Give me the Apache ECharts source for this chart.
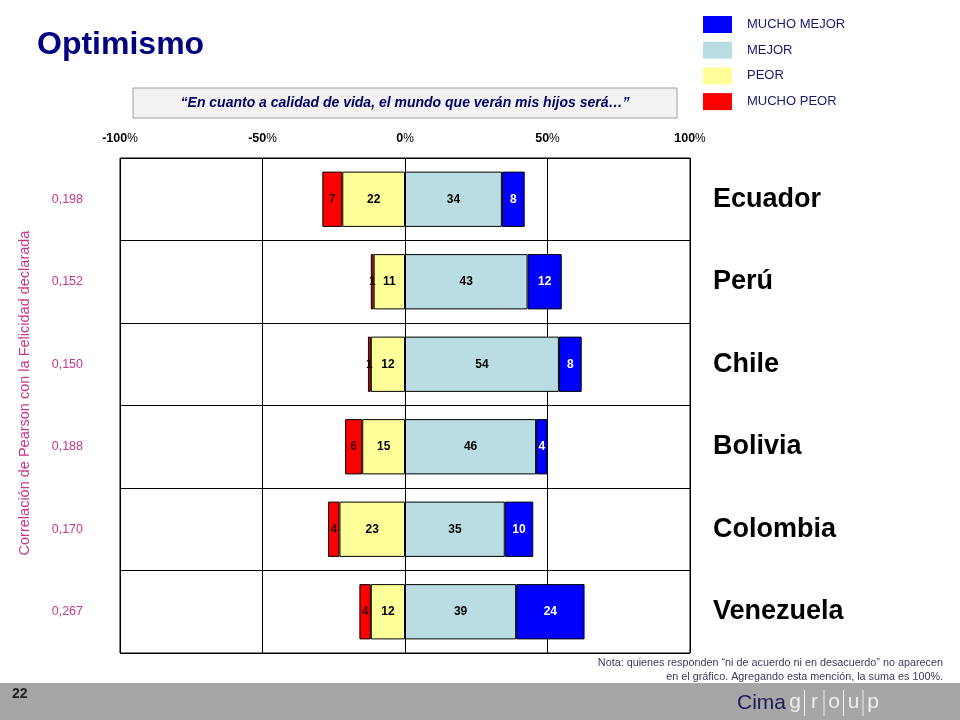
<!DOCTYPE html>
<html>
<head>
<meta charset="utf-8">
<script src="https://cdn.jsdelivr.net/npm/echarts@6/dist/echarts.min.js"></script>
<style>html,body{margin:0;padding:0;background:#fff}#c{width:960px;height:720px}</style>
</head>
<body>
<div id="c"></div>
<script>
const countries = ['Ecuador', 'Perú', 'Chile', 'Bolivia', 'Colombia', 'Venezuela'];
const correlations = ['0,198', '0,152', '0,150', '0,188', '0,170', '0,267'];
const muchoMejor = [8, 12, 8, 4, 10, 24];
const mejor = [34, 43, 54, 46, 35, 39];
const peor = [22, 11, 12, 15, 23, 12];
const muchoPeor = [7, 1, 1, 6, 4, 4];
const seriesNames = ['MUCHO MEJOR', 'MEJOR', 'PEOR', 'MUCHO PEOR'];
const axisMin = -100, axisMax = 100, axisStep = 50;

const FONT = 'Liberation Sans, Arial, sans-serif';
const chart = echarts.init(document.getElementById('c'));

function barSeries(name, values, color, labelColor, negative) {
  return {
    name: name,
    type: 'bar',
    stack: 'total',
    barCategoryGap: '33%',
    data: values.map(v => negative ? -v : v),
    itemStyle: { color: color, borderColor: '#000', borderWidth: 1 },
    label: {
      show: true,
      position: 'inside',
      formatter: p => String(Math.abs(p.value)),
      color: labelColor,
      fontFamily: FONT,
      fontWeight: 'bold',
      fontSize: 12
    },
    emphasis: { disabled: true }
  };
}

const option = {
  animation: false,
  backgroundColor: '#fff',
  title: {
    text: 'Optimismo',
    left: 32, top: 24,
    textStyle: { color: '#000080', fontSize: 32, fontWeight: 'bold', fontFamily: FONT }
  },
  legend: {
    data: seriesNames,
    orient: 'vertical',
    left: 698, top: 11,
    icon: 'rect',
    itemWidth: 29, itemHeight: 17, itemGap: 8.7,
    selectedMode: false,
    itemStyle: { borderWidth: 0 },
    textStyle: { color: '#1a1a6e', fontSize: 13, lineHeight: 13, fontFamily: FONT, padding: [4, 0, 0, 10] }
  },
  grid: {
    left: 120, right: 270, top: 158, bottom: 67,
    show: true, borderColor: '#000', borderWidth: 1, backgroundColor: 'transparent'
  },
  xAxis: {
    type: 'value',
    position: 'top',
    min: axisMin, max: axisMax, interval: axisStep,
    axisLine: { show: false },
    axisTick: { show: false },
    splitLine: { show: true, lineStyle: { color: '#000', width: 1 } },
    axisLabel: {
      margin: 13,
      formatter: v => '{n|' + v + '}{p|%}',
      rich: {
        n: { fontFamily: FONT, fontWeight: 'bold', fontSize: 12.5, color: '#000' },
        p: { fontFamily: FONT, fontSize: 12, color: '#000' }
      }
    }
  },
  yAxis: [
    {
      type: 'category',
      data: countries,
      inverse: true,
      position: 'right',
      axisLine: { show: false },
      axisTick: { show: false },
      splitLine: { show: true, lineStyle: { color: '#000', width: 1 } },
      axisLabel: {
        margin: 23,
        align: 'left',
        color: '#000',
        fontFamily: FONT,
        fontWeight: 'bold',
        fontSize: 27,
        padding: [3, 0, 0, 0]
      }
    },
    {
      type: 'category',
      data: correlations,
      inverse: true,
      position: 'left',
      axisLine: { show: false },
      axisTick: { show: false },
      splitLine: { show: false },
      axisLabel: {
        margin: 37,
        color: '#c8368c',
        fontFamily: FONT,
        fontSize: 12.5,
        padding: [5, 0, 0, 0]
      }
    }
  ],
  series: [
    barSeries('PEOR', peor, '#ffff99', '#000000', true),
    barSeries('MUCHO PEOR', muchoPeor, '#ff0000', '#3a0000', true),
    barSeries('MEJOR', mejor, '#b9dde2', '#000000', false),
    barSeries('MUCHO MEJOR', muchoMejor, '#0000ff', '#ffffff', false)
  ],
  graphic: [
    {
      type: 'rect',
      shape: { x: 133, y: 88, width: 544, height: 30 },
      style: { fill: '#f2f2f2', stroke: '#a0a0a0', lineWidth: 1 },
      silent: true
    },
    {
      type: 'text',
      x: 405, y: 103,
      style: {
        text: '“En cuanto a calidad de vida, el mundo que verán mis hijos será…”',
        font: 'italic bold 14px ' + FONT,
        fill: '#000066',
        align: 'center', verticalAlign: 'middle'
      },
      silent: true
    },
    {
      type: 'text',
      x: 25, y: 393,
      rotation: Math.PI / 2,
      style: {
        text: 'Correlación de Pearson con la Felicidad declarada',
        font: '14.5px ' + FONT,
        fill: '#c8368c',
        align: 'center', verticalAlign: 'middle'
      },
      silent: true
    },
    {
      type: 'text',
      x: 943, y: 670,
      style: {
        text: 'Nota: quienes responden “ni de acuerdo ni en desacuerdo” no aparecen\nen el gráfico. Agregando esta mención, la suma es 100%.',
        font: '10.8px ' + FONT,
        fill: '#3a3a5e',
        align: 'right', verticalAlign: 'middle',
        lineHeight: 14
      },
      silent: true
    },
    {
      type: 'rect',
      shape: { x: 0, y: 683, width: 960, height: 37 },
      style: { fill: '#a6a6a6' },
      silent: true
    },
    {
      type: 'text',
      x: 12, y: 694,
      style: { text: '22', font: 'bold 14px ' + FONT, fill: '#222', verticalAlign: 'middle' },
      silent: true
    },
    {
      type: 'text',
      x: 737, y: 703,
      style: { text: 'Cima', font: '21px ' + FONT, fill: '#1a1a5c', verticalAlign: 'middle' },
      silent: true
    },
    {
      type: 'group',
      children: ['g', 'r', 'o', 'u', 'p'].map((ch, i) => ({
        type: 'text',
        x: 795 + i * 19.5, y: 702,
        style: { text: ch, font: '21px ' + FONT, fill: '#eeeeee', align: 'center', verticalAlign: 'middle' },
        silent: true
      })).concat([0, 1, 2, 3].map(i => ({
        type: 'line',
        shape: { x1: 804.5 + i * 19.5, y1: 690, x2: 804.5 + i * 19.5, y2: 716 },
        style: { stroke: '#eeeeee', lineWidth: 1 },
        silent: true
      })))
    }
  ]
};

chart.setOption(option);
</script>
</body>
</html>
